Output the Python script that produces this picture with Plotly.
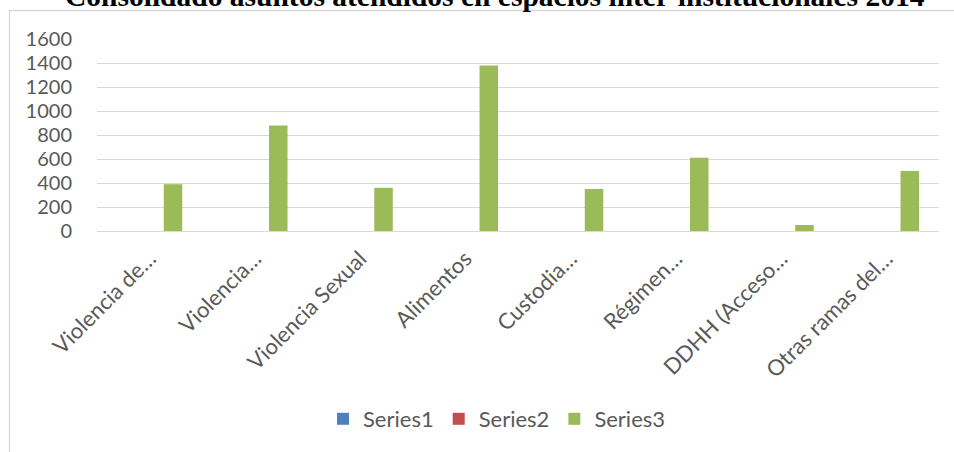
import plotly.graph_objects as go

categories = ["Violencia de…", "Violencia…", "Violencia Sexual", "Alimentos",
              "Custodia…", "Régimen…", "DDHH (Acceso…", "Otras ramas del…"]
series1 = [0, 0, 0, 0, 0, 0, 0, 0]
series2 = [0, 0, 0, 0, 0, 0, 0, 0]
series3 = [390, 880, 360, 1380, 350, 610, 50, 500]
y_ticks = [0, 200, 400, 600, 800, 1000, 1200, 1400, 1600]
title_text = "Consolidado asuntos atendidos en espacios inter-institucionales 2014"

W, H = 954, 452
L, R, T, B = 97, 15, 39, 221
pw, ph = W - L - R, H - T - B

def px_x(x):
    return (x - L) / pw

def px_y(y):
    return (H - B - y) / ph

TXT = "#595959"
GRID = "#d9d9d9"
FONT = "Lato, Calibri, Carlito, sans-serif"

fig = go.Figure()
for name, vals, col in [("Series1", series1, "#4F81BD"),
                        ("Series2", series2, "#C0504D"),
                        ("Series3", series3, "#9BBB59")]:
    fig.add_trace(go.Bar(x=categories, y=vals, name=name, marker_color=col,
                         marker_line_width=0))

fig.update_layout(
    width=W, height=H,
    margin=dict(l=L, r=R, t=T, b=B, autoexpand=False),
    paper_bgcolor="white", plot_bgcolor="white",
    barmode="group", bargap=0.333, bargroupgap=0.21,
    font=dict(family=FONT, color=TXT, size=20),
    legend=dict(orientation="h", x=px_x(497), xanchor="center",
                y=px_y(419), yanchor="middle",
                font=dict(family=FONT, size=22, color=TXT),
                itemwidth=30, traceorder="normal"),
    xaxis=dict(type="category", tickangle=-45, showline=True, linecolor=GRID,
               linewidth=1.3, showgrid=False, ticks="", ticklabelstandoff=5,
               tickfont=dict(family=FONT, size=22, color=TXT)),
    yaxis=dict(range=[0, 1600], tickvals=y_ticks, showgrid=True,
               gridcolor=GRID, gridwidth=1.3, zeroline=False, showline=False,
               ticks="", ticklabelstandoff=24,
               tickfont=dict(family=FONT, size=20, color=TXT)),
    shapes=[dict(type="rect", xref="paper", yref="paper",
                 x0=px_x(9.5), x1=px_x(1100), y0=px_y(1000), y1=px_y(10.5),
                 line=dict(color=GRID, width=1.3), fillcolor="rgba(0,0,0,0)",
                 layer="below")],
    annotations=[dict(text="<b>" + title_text + "</b>", xref="paper", yref="paper",
                      x=px_x(495), xanchor="center", y=px_y(-4), yanchor="middle",
                      showarrow=False,
                      font=dict(family="Liberation Serif, Times New Roman, serif",
                                size=29.5, color="black"))],
)

fig.write_html("out.html", config={"displayModeBar": False},
               post_script="document.body.style.margin='0';")
